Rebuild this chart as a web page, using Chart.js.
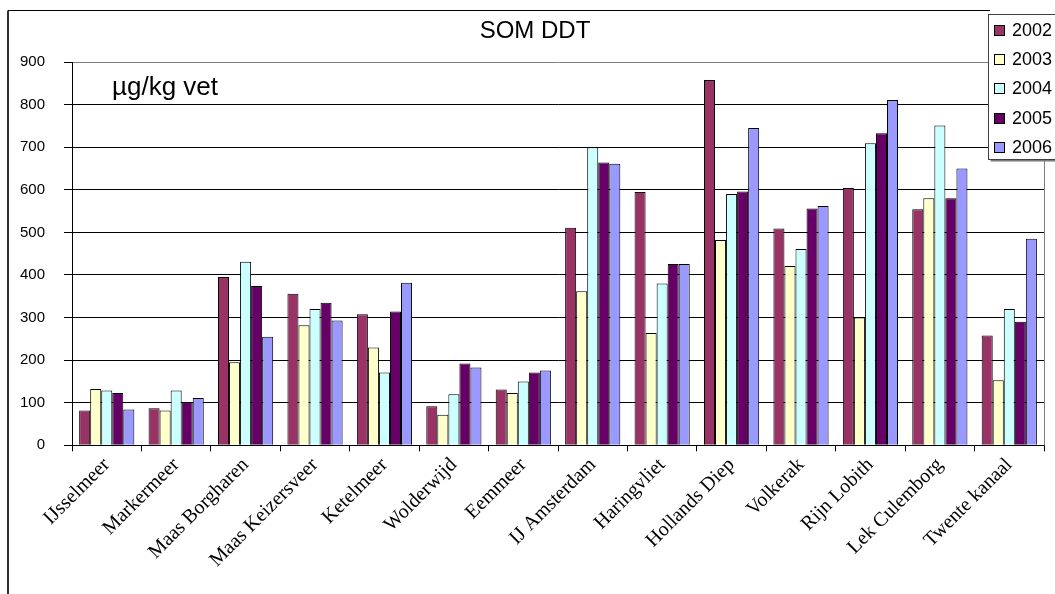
<!DOCTYPE html>
<html>
<head>
<meta charset="utf-8">
<title>SOM DDT</title>
<script src="https://cdn.jsdelivr.net/npm/chart.js@4/dist/chart.umd.min.js"></script>
<style>
  html, body { margin: 0; padding: 0; background: #fff; }
  #wrap { width: 1055px; height: 594px; position: relative; }
</style>
</head>
<body>
<div id="wrap"><canvas id="chart"></canvas></div>
<script>
const locations = [
  'IJsselmeer', 'Markermeer', 'Maas Borgharen', 'Maas Keizersveer', 'Ketelmeer',
  'Wolderwijd', 'Eemmeer', 'IJ Amsterdam', 'Haringvliet', 'Hollands Diep',
  'Volkerak', 'Rijn Lobith', 'Lek Culemborg', 'Twente kanaal'
]
const years = ['2002', '2003', '2004', '2005', '2006']
const values2002 = [82, 87, 395, 356, 308, 92, 131, 511, 595, 858, 509, 604, 554, 258]
const values2003 = [132, 82, 195, 282, 230, 72, 123, 362, 264, 482, 421, 300, 580, 153]
const values2004 = [129, 129, 431, 320, 171, 120, 150, 700, 380, 590, 461, 709, 751, 320]
const values2005 = [123, 102, 374, 335, 314, 192, 171, 664, 426, 596, 556, 733, 580, 290]
const values2006 = [84, 111, 255, 293, 382, 183, 176, 661, 426, 745, 562, 811, 650, 485]
const yTicks = [0, 100, 200, 300, 400, 500, 600, 700, 800, 900]
const chartTitle = 'SOM DDT'
const unitLabel = 'µg/kg vet'

const colors = ['#993366', '#FFFFCC', '#CCFFFF', '#660066', '#9999FF']
const series = [values2002, values2003, values2004, values2005, values2006]

const datasets = series.map((data, i) => ({
  label: years[i],
  data: data,
  backgroundColor: colors[i],
  borderColor: '#000000',
  borderWidth: 1,
  borderSkipped: 'bottom',
  categoryPercentage: 0.795,
  barPercentage: 1.0
}))

// Frame, title, plot border, unit text and the boxed legend at the top right
const decorations = {
  id: 'decorations',
  beforeDraw(chart) {
    const ctx = chart.ctx
    ctx.save()
    ctx.fillStyle = '#ffffff'
    ctx.fillRect(0, 0, chart.width, chart.height)
    ctx.restore()
  },
  beforeDatasetsDraw(chart) {
    const {ctx, chartArea} = chart
    ctx.save()
    ctx.strokeStyle = '#808080'
    ctx.lineWidth = 1
    ctx.beginPath()
    ctx.moveTo(Math.round(chartArea.right) + 0.5, chartArea.top)
    ctx.lineTo(Math.round(chartArea.right) + 0.5, chartArea.bottom)
    ctx.stroke()
    ctx.restore()
  },
  afterDraw(chart) {
    const ctx = chart.ctx
    ctx.save()

    // outer frame
    ctx.strokeStyle = '#303030'
    ctx.lineWidth = 2
    ctx.beginPath()
    ctx.moveTo(8, chart.height)
    ctx.lineTo(8, 10.5)
    ctx.stroke()
    ctx.lineWidth = 1
    ctx.strokeStyle = '#000000'
    ctx.beginPath()
    ctx.moveTo(8, 10.5)
    ctx.lineTo(990, 10.5)
    ctx.stroke()

    ctx.fillStyle = '#000000'
    ctx.textBaseline = 'middle'
    ctx.textAlign = 'center'
    ctx.font = '24px "Liberation Sans", Arial, sans-serif'
    ctx.fillText(chartTitle, 535, 31)

    ctx.textAlign = 'left'
    ctx.font = '26px "Liberation Sans", Arial, sans-serif'
    ctx.fillText(unitLabel, 112, 88)

    // legend
    const lx = 988.5, ly = 14.5, lw = 80, lh = 145
    ctx.fillStyle = '#7a7a7a'
    ctx.fillRect(lx + 2, ly + 2, lw, lh)
    ctx.fillStyle = '#ffffff'
    ctx.fillRect(lx, ly, lw, lh)
    ctx.strokeStyle = '#404040'
    ctx.lineWidth = 1
    ctx.strokeRect(lx, ly, lw, lh)

    ctx.font = '18px "Liberation Sans", Arial, sans-serif'
    chart.data.datasets.forEach((ds, i) => {
      const cy = 30 + i * 29.2
      ctx.fillStyle = ds.backgroundColor
      ctx.fillRect(994.5, Math.round(cy - 5) + 0.5, 10, 10)
      ctx.strokeStyle = '#000000'
      ctx.strokeRect(994.5, Math.round(cy - 5) + 0.5, 10, 10)
      ctx.fillStyle = '#000000'
      ctx.fillText(ds.label, 1012, cy + 1)
    })
    ctx.restore()
  }
}

new Chart(document.getElementById('chart'), {
  type: 'bar',
  data: {
    labels: locations,
    datasets: datasets
  },
  plugins: [decorations],
  options: {
    responsive: true,
    maintainAspectRatio: false,
    animation: false,
    layout: {
      // the y axis reserves its tick padding twice, so the left padding stays tiny
      padding: {left: 1, right: 11, top: 62, bottom: 20}
    },
    plugins: {
      legend: {display: false},
      tooltip: {enabled: false},
      title: {display: false}
    },
    scales: {
      x: {
        offset: true,
        afterFit: (scale) => {
          scale.paddingLeft = 0
          scale.paddingRight = 0
        },
        ticks: {
          autoSkip: false,
          minRotation: 45,
          maxRotation: 45,
          padding: 2,
          color: '#000000',
          font: {family: '"Liberation Serif", "Times New Roman", serif', size: 20}
        },
        grid: {
          offset: true,
          drawOnChartArea: false,
          drawTicks: true,
          tickLength: 6,
          color: '#000000'
        },
        border: {color: '#000000', width: 1}
      },
      y: {
        min: 0,
        max: 900,
        afterBuildTicks: (axis) => {
          axis.ticks = yTicks.map(v => ({value: v}))
        },
        ticks: {
          padding: 19,
          color: '#000000',
          font: {family: '"Liberation Sans", Arial, sans-serif', size: 15}
        },
        grid: {
          color: (context) => context.tick && context.tick.value === 900 ? '#808080' : '#000000',
          tickColor: '#000000',
          tickLength: 8,
          lineWidth: 1
        },
        border: {color: '#000000', width: 1}
      }
    }
  }
})
</script>
</body>
</html>
